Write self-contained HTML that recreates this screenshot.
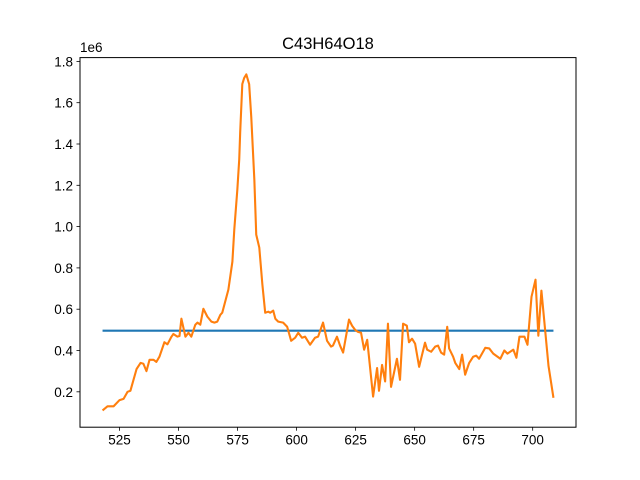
<!DOCTYPE html>
<html><head><meta charset="utf-8"><style>
body{margin:0;background:#fff}
svg{display:block;font-family:"Liberation Sans","DejaVu Sans",sans-serif}
</style></head><body>
<svg id="chart" width="640" height="480" xmlns="http://www.w3.org/2000/svg">
<rect width="640" height="480" fill="#fff"/>
<text x="328" y="49" font-size="16.5" text-anchor="middle">C43H64O18</text>
<text x="80" y="52" font-size="13.5">1e6</text>
<g id="plot"></g>
<rect x="80" y="57.6" width="496" height="369.6" fill="none" stroke="#000" stroke-width="1"/>
</svg>
<script>
const xVals=[517.8,519.9,522.5,525,526.7,528.4,529.6,532.2,533.9,535.1,536.4,537.7,539.4,540.6,541.9,544,545.3,547,547.8,549.5,550.4,551.2,552.9,554.2,555.4,557.1,558,559.2,560.5,562.2,563.9,565.2,566.4,567.7,568.5,571.1,572.8,573.6,574.9,575.7,576.1,577,577.8,578.7,579.9,580.8,582.1,582.9,584.2,585.5,586.7,588,588.8,590.1,591,592.2,594.3,596,597.7,599.4,600.7,602.3,603.6,605.7,607.8,609.1,611.2,612.9,614.6,615.4,617.1,618.4,619.7,622.2,623.5,624.8,626,627.3,628.6,629.9,632.4,634.1,634.9,636.2,637.5,638.7,640,642.5,643.8,645.1,646.7,647.6,648.9,650.2,651.9,654.4,655.3,657,658.7,659.9,661.2,662.5,663.8,664.6,666.3,667.2,668.9,670.1,671.4,673.1,674.8,676.1,677.3,679.9,681.6,683.3,686.3,688,689.3,691.8,693.1,694.4,696.5,697.8,699.5,701.2,702.4,703.7,706.7,708.8];
const intensity=[0.11,0.13,0.13,0.16,0.166,0.2,0.205,0.31,0.34,0.336,0.3,0.355,0.355,0.345,0.37,0.44,0.43,0.467,0.48,0.467,0.47,0.554,0.467,0.486,0.467,0.525,0.535,0.525,0.602,0.564,0.54,0.535,0.54,0.573,0.583,0.695,0.83,0.985,1.18,1.325,1.456,1.69,1.72,1.737,1.69,1.53,1.228,0.961,0.898,0.72,0.583,0.588,0.583,0.593,0.554,0.54,0.535,0.515,0.447,0.462,0.486,0.462,0.467,0.428,0.462,0.467,0.535,0.447,0.419,0.424,0.467,0.424,0.39,0.55,0.52,0.5,0.49,0.486,0.404,0.452,0.177,0.315,0.205,0.33,0.25,0.53,0.224,0.36,0.258,0.53,0.52,0.44,0.457,0.433,0.321,0.438,0.404,0.394,0.419,0.424,0.39,0.38,0.515,0.41,0.37,0.34,0.31,0.38,0.283,0.34,0.37,0.375,0.36,0.413,0.41,0.385,0.36,0.4,0.385,0.404,0.365,0.467,0.467,0.428,0.66,0.743,0.472,0.69,0.326,0.171];
const meanLevel=[0.496];
const xTicks=[525,550,575,600,625,650,675,700];
const yTicks=[0.2,0.4,0.6,0.8,1.0,1.2,1.4,1.6,1.8];
const L=80,R=576,T=57.6,B=427.2;
const xmin0=Math.min(...xVals),xmax0=Math.max(...xVals);
const xm=(xmax0-xmin0)*0.05;
const allY=intensity.concat(meanLevel);
const ymin0=Math.min(...allY),ymax0=Math.max(...allY);
const ym=(ymax0-ymin0)*0.05;
const xS=v=>L+(v-(xmin0-xm))/((xmax0+xm)-(xmin0-xm))*(R-L);
const yS=v=>B-(v-(ymin0-ym))/((ymax0+ym)-(ymin0-ym))*(B-T);
const NS="http://www.w3.org/2000/svg";
const g=document.getElementById('plot');
function mk(t,a){const e=document.createElementNS(NS,t);for(const k in a)e.setAttribute(k,a[k]);g.appendChild(e);return e;}
xTicks.forEach(v=>{
  const x=xS(v);
  const t=mk('line',{x1:x,x2:x,y1:B,y2:B+3.5,stroke:'#000','stroke-width':0.8});
  
  
  const l=mk('text',{x:x,y:B+17.5,'font-size':13.5,'text-anchor':'middle'});
  l.textContent=String(v);
  
  
});
yTicks.forEach(v=>{
  const y=yS(v);
  const t=mk('line',{x1:L-3.5,x2:L,y1:y,y2:y,stroke:'#000','stroke-width':0.8});
  
  
  const l=mk('text',{x:L-7,y:y+5,'font-size':13.5,'text-anchor':'end'});
  l.textContent=v.toFixed(1);
  
  
});
const mean=mk('line',{x1:xS(xmin0),x2:xS(xmax0),y1:yS(meanLevel[0]),y2:yS(meanLevel[0]),stroke:'#1f77b4','stroke-width':2.1});


const pts=xVals.map((v,i)=>xS(v).toFixed(2)+','+yS(intensity[i]).toFixed(2)).join(' ');
const series=mk('polyline',{points:pts,fill:'none',stroke:'#ff7f0e','stroke-width':2.1,'stroke-linejoin':'round'});


</script>
</body></html>
